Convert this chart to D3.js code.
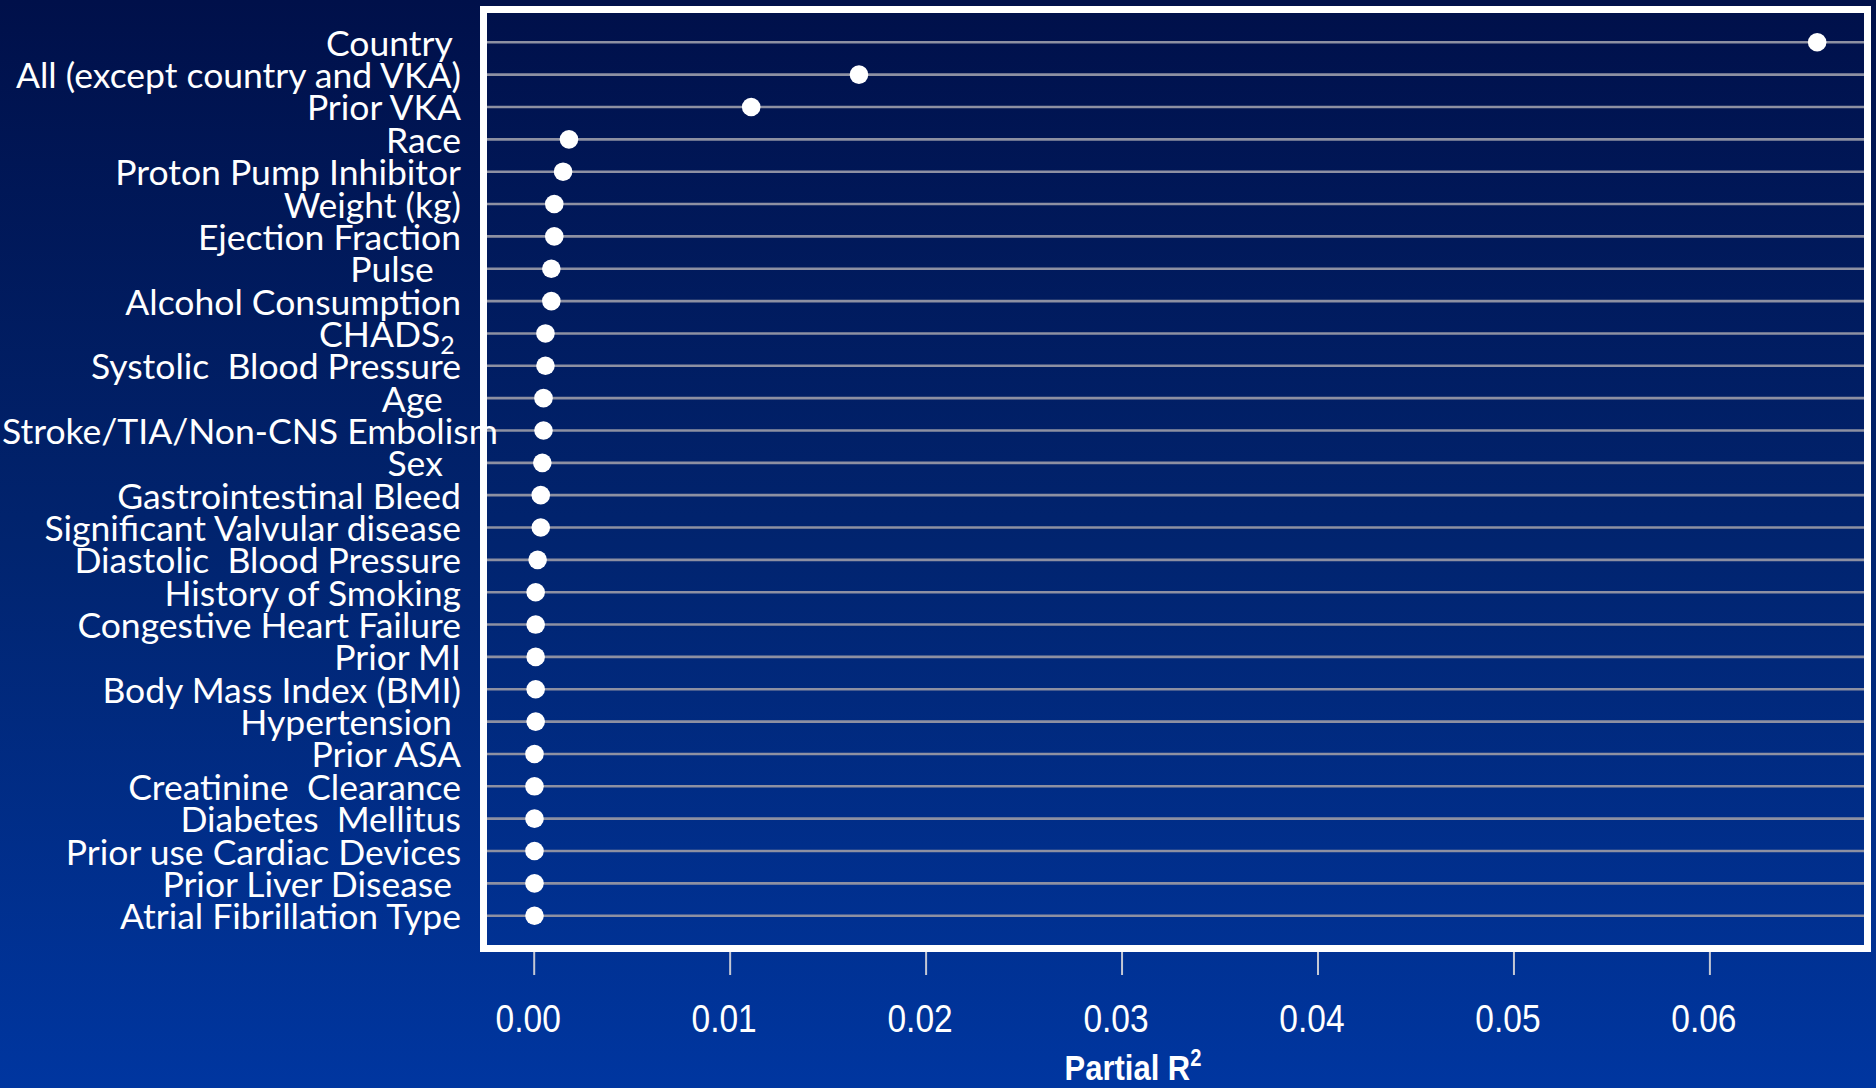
<!DOCTYPE html>
<html>
<head>
<meta charset="utf-8">
<script src="https://cdn.jsdelivr.net/npm/d3@7"></script>
<style>
  html, body { margin: 0; padding: 0; overflow: hidden; background: #001248; }
  svg { display: block; }
</style>
</head>
<body>
<svg id="chart" width="1876" height="1088"></svg>
<script>
// ---------------- data ----------------
const categories = [
  "Country ",
  "All (except country and VKA)",
  "Prior VKA",
  "Race",
  "Proton Pump Inhibitor",
  "Weight (kg)",
  "Ejection Fraction",
  "Pulse   ",
  "Alcohol Consumption",
  "CHADS2",
  "Systolic  Blood Pressure",
  "Age  ",
  "Stroke/TIA/Non-CNS Embolism",
  "Sex  ",
  "Gastrointestinal Bleed",
  "Significant Valvular disease",
  "Diastolic  Blood Pressure",
  "History of Smoking",
  "Congestive Heart Failure",
  "Prior MI",
  "Body Mass Index (BMI)",
  "Hypertension ",
  "Prior ASA",
  "Creatinine  Clearance",
  "Diabetes  Mellitus",
  "Prior use Cardiac Devices",
  "Prior Liver Disease ",
  "Atrial Fibrillation Type"
];

const partialR2 = [
  0.0655, 0.0166, 0.0111, 0.0018, 0.0015, 0.00105, 0.00105, 0.0009, 0.0009, 0.0006,
  0.0006, 0.0005, 0.0005, 0.00044, 0.00036, 0.00036, 0.0002, 0.0001, 0.0001, 0.0001,
  0.0001, 0.0001, 0.00004, 0.00004, 0.00004, 0.00004, 0.00004, 0.00004
];

const tickValues = [0, 0.01, 0.02, 0.03, 0.04, 0.05, 0.06];
const tickLabels = ["0.00", "0.01", "0.02", "0.03", "0.04", "0.05", "0.06"];
const axisTitle = "Partial R";
const axisTitleSup = "2";

// ---------------- layout ----------------
const W = 1876, H = 1088;
const frameOuter = { left: 480, top: 6, right: 1871, bottom: 952 };
const frameW = 7;
const inner = {
  left: frameOuter.left + frameW,
  top: frameOuter.top + frameW,
  right: frameOuter.right - frameW,
  bottom: frameOuter.bottom - frameW
};

const svg = d3.select("#chart");

// background gradient
const defs = svg.append("defs");
const grad = defs.append("linearGradient")
  .attr("id", "bg").attr("x1", 0).attr("y1", 0).attr("x2", 0).attr("y2", 1);
grad.append("stop").attr("offset", "0%").attr("stop-color", "#00104a");
grad.append("stop").attr("offset", "50%").attr("stop-color", "#01246f");
grad.append("stop").attr("offset", "100%").attr("stop-color", "#0036a0");

svg.append("rect").attr("x", 0).attr("y", 0).attr("width", W).attr("height", H)
  .attr("fill", "url(#bg)");

// scales
const x = d3.scaleLinear().domain([0, 0.06]).range([533.7, 1709.4]);
const y = d3.scalePoint().domain(categories)
  .range([inner.top, inner.bottom]).padding(0.905);

// gridlines
svg.append("g").selectAll("line").data(categories).join("line")
  .attr("x1", frameOuter.left)
  .attr("x2", inner.right)
  .attr("y1", d => y(d))
  .attr("y2", d => y(d))
  .attr("stroke", "#8d90a2")
  .attr("stroke-width", 2.6);

// frame
svg.append("rect")
  .attr("x", frameOuter.left + frameW / 2)
  .attr("y", frameOuter.top + frameW / 2)
  .attr("width", frameOuter.right - frameOuter.left - frameW)
  .attr("height", frameOuter.bottom - frameOuter.top - frameW)
  .attr("fill", "none")
  .attr("stroke", "#ffffff")
  .attr("stroke-width", frameW);

// dots
svg.append("g").selectAll("circle").data(categories).join("circle")
  .attr("cx", (d, i) => x(partialR2[i]))
  .attr("cy", d => y(d))
  .attr("r", 9.3)
  .attr("fill", "#ffffff");

// category labels
const labelRight = 461;
const labels = svg.append("g")
  .attr("font-family", "Lato, 'Open Sans', sans-serif")
  .attr("font-size", 35.5)
  .attr("fill", "#ffffff");

labels.selectAll("text").data(categories).join("text")
  .attr("x", labelRight)
  .attr("y", d => y(d))
  .attr("dy", "0.38em")
  .attr("text-anchor", "end")
  .attr("xml:space", "preserve")
  .style("white-space", "pre")
  .each(function (d) {
    const t = d3.select(this);
    if (d === "CHADS2") {
      t.append("tspan").text("CHADS");
      t.append("tspan").attr("font-size", "70%").attr("dy", "0.3em").text("2 ");
    } else {
      t.text(d);
    }
    const w = this.getComputedTextLength();
    if (w > labelRight - 2) t.attr("x", w + 2);
  });

// x axis
const axis = d3.axisBottom(x)
  .tickValues(tickValues)
  .tickFormat((d, i) => tickLabels[i])
  .tickSize(23)
  .tickPadding(29);

const gAxis = svg.append("g")
  .attr("transform", `translate(0,${frameOuter.bottom})`)
  .call(axis);
gAxis.select(".domain").remove();
gAxis.selectAll(".tick line").attr("stroke", "#c4c8d4").attr("stroke-width", 2);
gAxis.selectAll(".tick text")
  .attr("fill", "#ffffff")
  .attr("font-family", "'Liberation Sans', Arial, sans-serif")
  .attr("font-size", 39)
  .attr("x", -7)
  .attr("transform", "scale(0.86,1)");

// axis title
const title = svg.append("text")
  .attr("transform", "translate(1133,1080) scale(0.86,1)")
  .attr("text-anchor", "middle")
  .attr("fill", "#ffffff")
  .attr("font-family", "'Liberation Sans', Arial, sans-serif")
  .attr("font-weight", "bold")
  .attr("font-size", 36);
title.append("tspan").text(axisTitle);
title.append("tspan").attr("font-size", "65%").attr("dy", "-0.6em").text(axisTitleSup);
</script>
</body>
</html>
